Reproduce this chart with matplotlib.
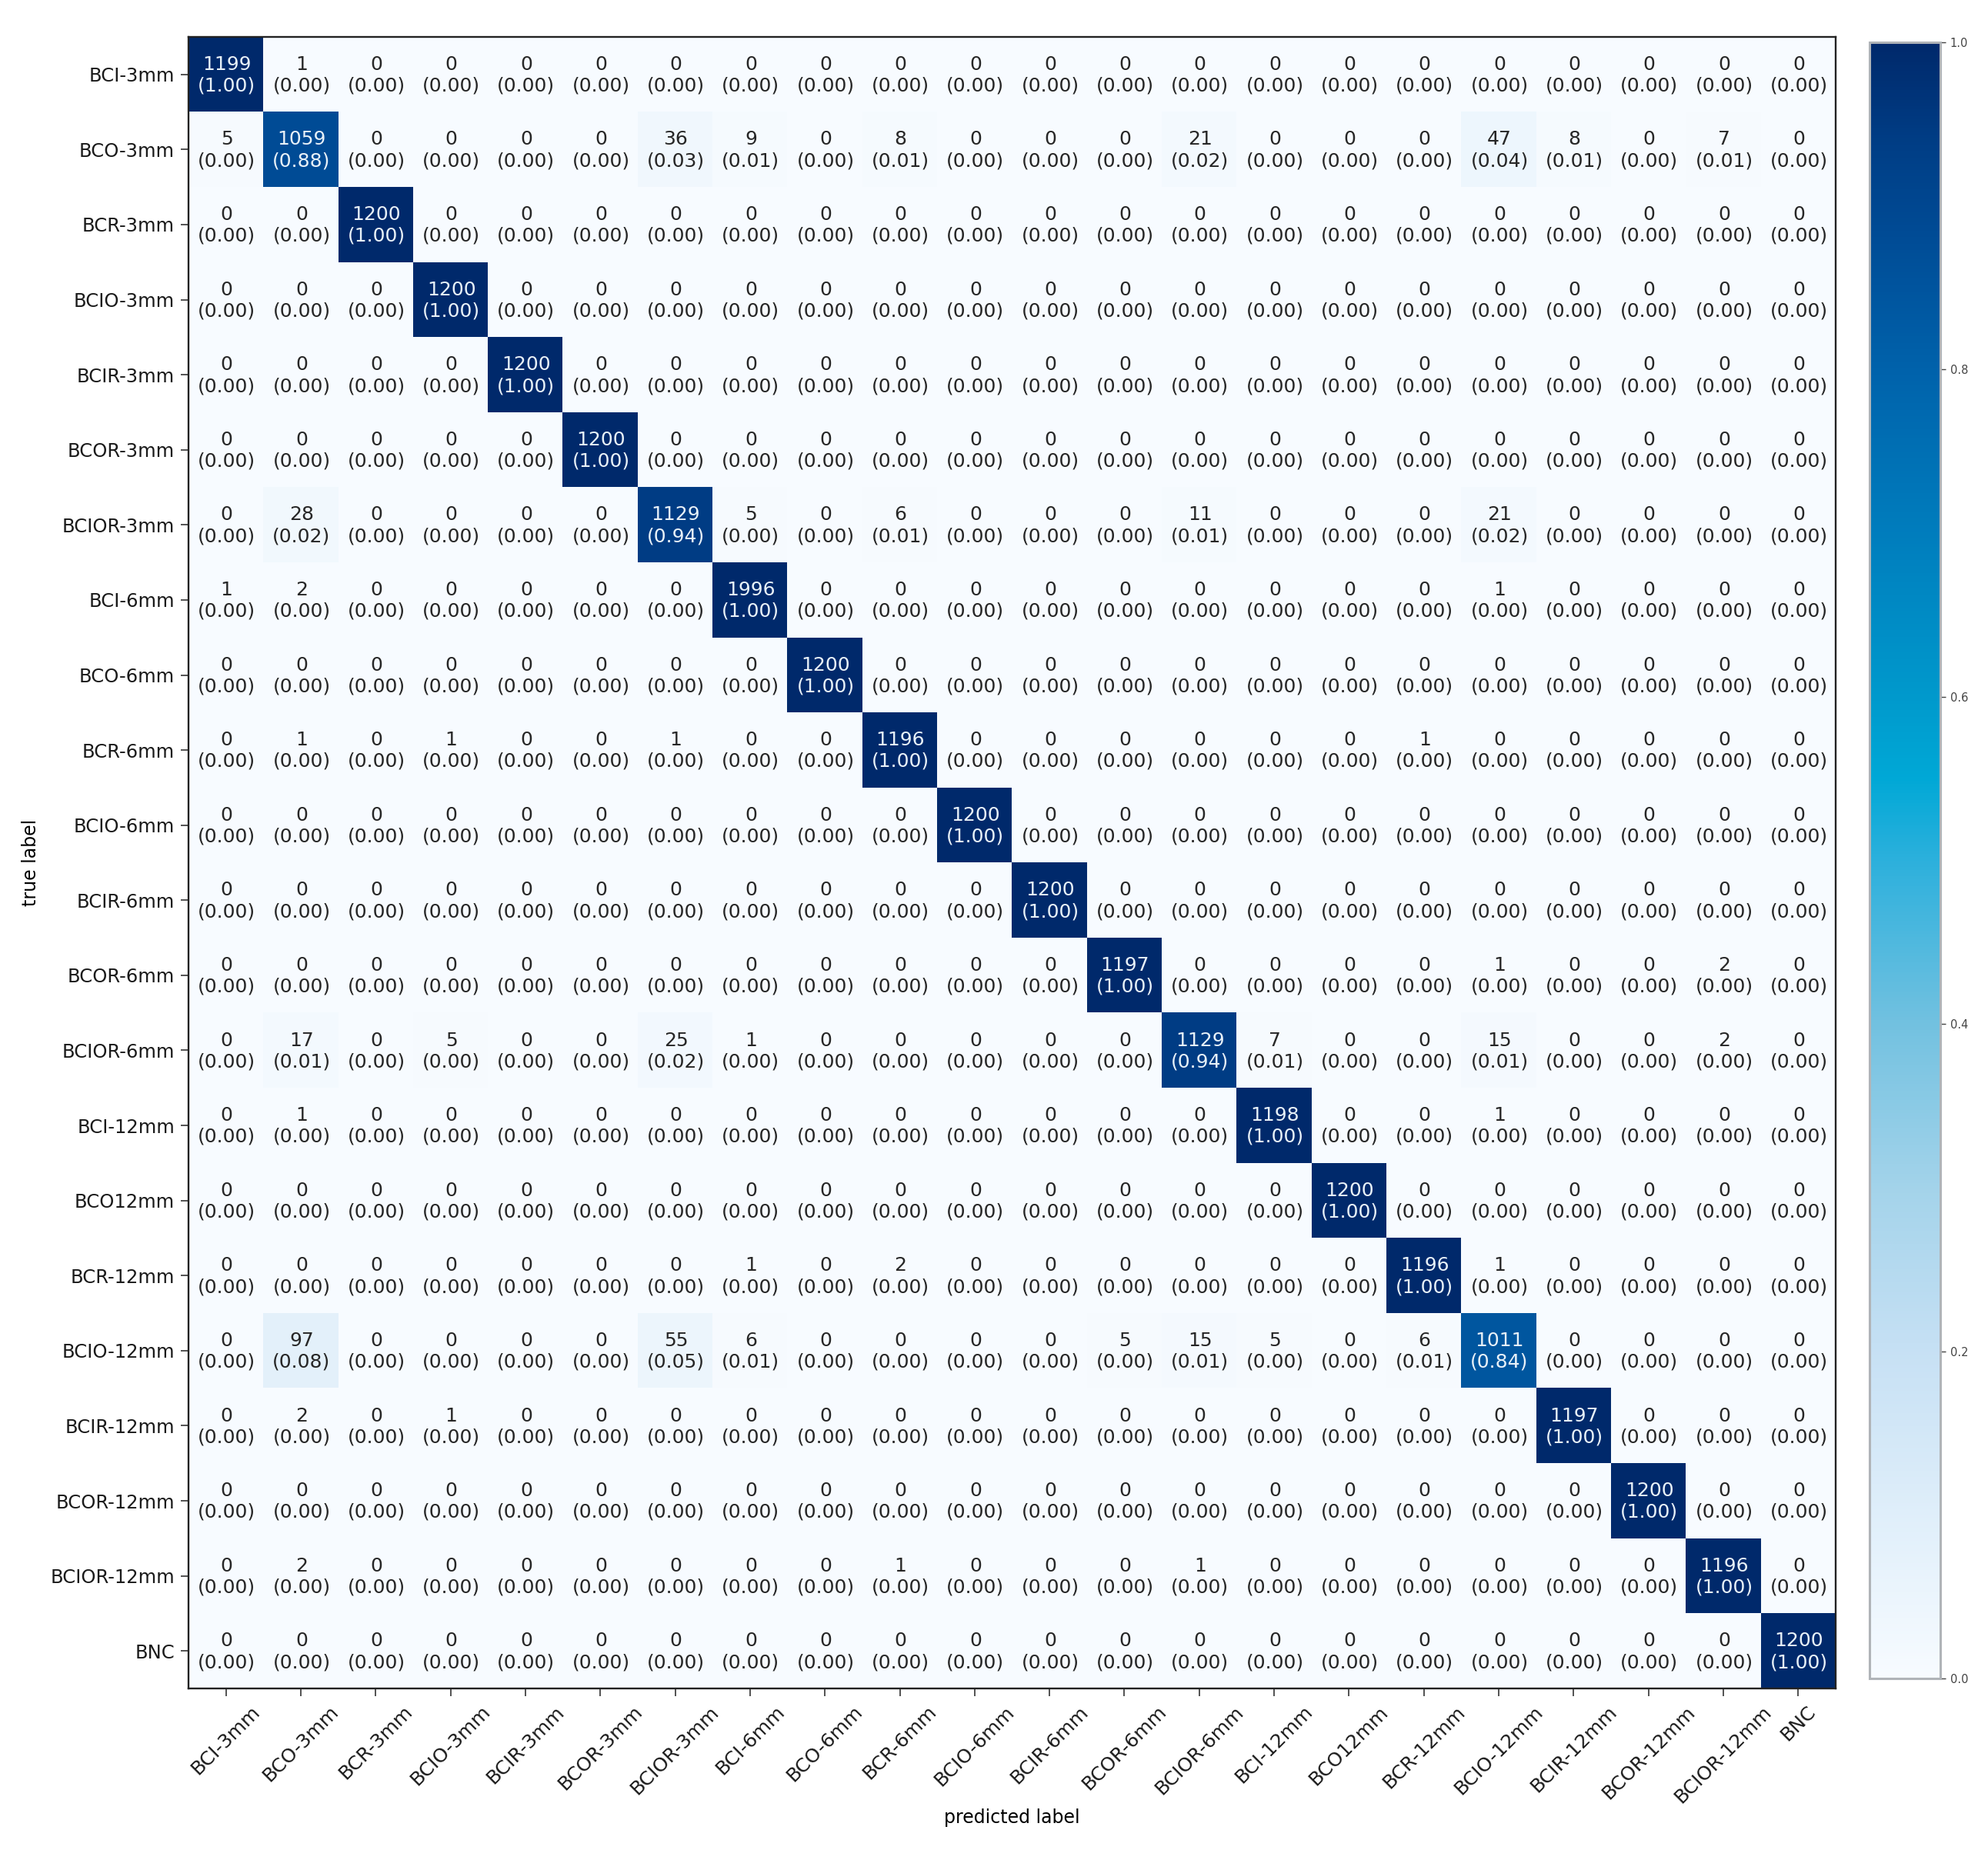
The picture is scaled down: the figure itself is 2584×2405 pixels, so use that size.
import numpy as np
import matplotlib
matplotlib.use('Agg')
import matplotlib.pyplot as plt
from matplotlib.colors import LinearSegmentedColormap

class_names = ['BCI-3mm', 'BCO-3mm', 'BCR-3mm', 'BCIO-3mm', 'BCIR-3mm', 'BCOR-3mm', 'BCIOR-3mm',
               'BCI-6mm', 'BCO-6mm', 'BCR-6mm', 'BCIO-6mm', 'BCIR-6mm', 'BCOR-6mm', 'BCIOR-6mm',
               'BCI-12mm', 'BCO12mm', 'BCR-12mm', 'BCIO-12mm', 'BCIR-12mm', 'BCOR-12mm', 'BCIOR-12mm', 'BNC']

# counts, one row per true label
conf_mat = [
    [1199, 1, 0, 0, 0, 0, 0, 0, 0, 0, 0, 0, 0, 0, 0, 0, 0, 0, 0, 0, 0, 0],
    [5, 1059, 0, 0, 0, 0, 36, 9, 0, 8, 0, 0, 0, 21, 0, 0, 0, 47, 8, 0, 7, 0],
    [0, 0, 1200, 0, 0, 0, 0, 0, 0, 0, 0, 0, 0, 0, 0, 0, 0, 0, 0, 0, 0, 0],
    [0, 0, 0, 1200, 0, 0, 0, 0, 0, 0, 0, 0, 0, 0, 0, 0, 0, 0, 0, 0, 0, 0],
    [0, 0, 0, 0, 1200, 0, 0, 0, 0, 0, 0, 0, 0, 0, 0, 0, 0, 0, 0, 0, 0, 0],
    [0, 0, 0, 0, 0, 1200, 0, 0, 0, 0, 0, 0, 0, 0, 0, 0, 0, 0, 0, 0, 0, 0],
    [0, 28, 0, 0, 0, 0, 1129, 5, 0, 6, 0, 0, 0, 11, 0, 0, 0, 21, 0, 0, 0, 0],
    [1, 2, 0, 0, 0, 0, 0, 1996, 0, 0, 0, 0, 0, 0, 0, 0, 0, 1, 0, 0, 0, 0],
    [0, 0, 0, 0, 0, 0, 0, 0, 1200, 0, 0, 0, 0, 0, 0, 0, 0, 0, 0, 0, 0, 0],
    [0, 1, 0, 1, 0, 0, 1, 0, 0, 1196, 0, 0, 0, 0, 0, 0, 1, 0, 0, 0, 0, 0],
    [0, 0, 0, 0, 0, 0, 0, 0, 0, 0, 1200, 0, 0, 0, 0, 0, 0, 0, 0, 0, 0, 0],
    [0, 0, 0, 0, 0, 0, 0, 0, 0, 0, 0, 1200, 0, 0, 0, 0, 0, 0, 0, 0, 0, 0],
    [0, 0, 0, 0, 0, 0, 0, 0, 0, 0, 0, 0, 1197, 0, 0, 0, 0, 1, 0, 0, 2, 0],
    [0, 17, 0, 5, 0, 0, 25, 1, 0, 0, 0, 0, 0, 1129, 7, 0, 0, 15, 0, 0, 2, 0],
    [0, 1, 0, 0, 0, 0, 0, 0, 0, 0, 0, 0, 0, 0, 1198, 0, 0, 1, 0, 0, 0, 0],
    [0, 0, 0, 0, 0, 0, 0, 0, 0, 0, 0, 0, 0, 0, 0, 1200, 0, 0, 0, 0, 0, 0],
    [0, 0, 0, 0, 0, 0, 0, 1, 0, 2, 0, 0, 0, 0, 0, 0, 1196, 1, 0, 0, 0, 0],
    [0, 97, 0, 0, 0, 0, 55, 6, 0, 0, 0, 0, 5, 15, 5, 0, 6, 1011, 0, 0, 0, 0],
    [0, 2, 0, 1, 0, 0, 0, 0, 0, 0, 0, 0, 0, 0, 0, 0, 0, 0, 1197, 0, 0, 0],
    [0, 0, 0, 0, 0, 0, 0, 0, 0, 0, 0, 0, 0, 0, 0, 0, 0, 0, 0, 1200, 0, 0],
    [0, 2, 0, 0, 0, 0, 0, 0, 0, 1, 0, 0, 0, 1, 0, 0, 0, 0, 0, 0, 1196, 0],
    [0, 0, 0, 0, 0, 0, 0, 0, 0, 0, 0, 0, 0, 0, 0, 0, 0, 0, 0, 0, 0, 1200],
]
cbar_ticks = [0.0, 0.2, 0.4, 0.6, 0.8, 1.0]

# colours (more saturated than plain Blues)
cmap_stops = [(0.0, '#f7fbff'), (0.08, '#e4f1fb'), (0.2, '#c6e0f4'), (0.3, '#a3d3ea'), (0.4, '#72c1e0'),
              (0.5, '#2cb0dc'), (0.55, '#00a8d6'), (0.6, '#0099cc'), (0.7, '#007dbd'), (0.8, '#0062ab'),
              (0.88, '#004c96'), (0.94, '#003d85'), (1.0, '#00296b')]
cmap = LinearSegmentedColormap.from_list('ref_blues', cmap_stops, N=512)

W, H = 2584, 2405
conf_mat = np.array(conf_mat)
normed = conf_mat / conf_mat.sum(axis=1, keepdims=True)

fig = plt.figure(figsize=(W / 100, H / 100), dpi=100)
ax = fig.add_axes([245 / W, 1 - 2195 / H, 2141 / W, 2147 / H])
im = ax.imshow(normed, cmap=cmap, vmin=0, vmax=1, aspect='auto', interpolation='nearest')

for i in range(normed.shape[0]):
    for j in range(normed.shape[1]):
        ax.text(j + 0.01, i + 0.01, '%d\n(%.2f)' % (conf_mat[i, j], normed[i, j]),
                ha='center', va='center', fontsize=18, color='#e8f1f8' if normed[i, j] > 0.5 else '#262626')

ax.set_xticks(range(len(class_names)))
ax.set_yticks(range(len(class_names)))
ax.set_xticklabels(class_names, rotation=45, ha='center', fontsize=18)
ax.set_yticklabels(class_names, fontsize=17.5)
ax.tick_params(length=7, width=1.1, pad=6, color='#222222', labelcolor='#1a1a1a')
ax.set_xlabel('predicted label', fontsize=17, labelpad=2)
ax.set_ylabel('true label', fontsize=17)
ax.yaxis.set_label_coords((52 - 245) / 2141, 0.5)
for s in ax.spines.values():
    s.set_linewidth(1.7)
    s.set_color('#222222')

cax = fig.add_axes([2430 / W, 1 - 2182 / H, 92 / W, 2127 / H])
cb = fig.colorbar(im, cax=cax, ticks=cbar_ticks)
cb.ax.tick_params(labelsize=10.5, length=5, width=1, pad=4, color='#444444', labelcolor='#444444')
cb.outline.set_edgecolor('#b0b4b8')
cb.outline.set_linewidth(2.2)

fig.savefig('out.png', dpi=100)
